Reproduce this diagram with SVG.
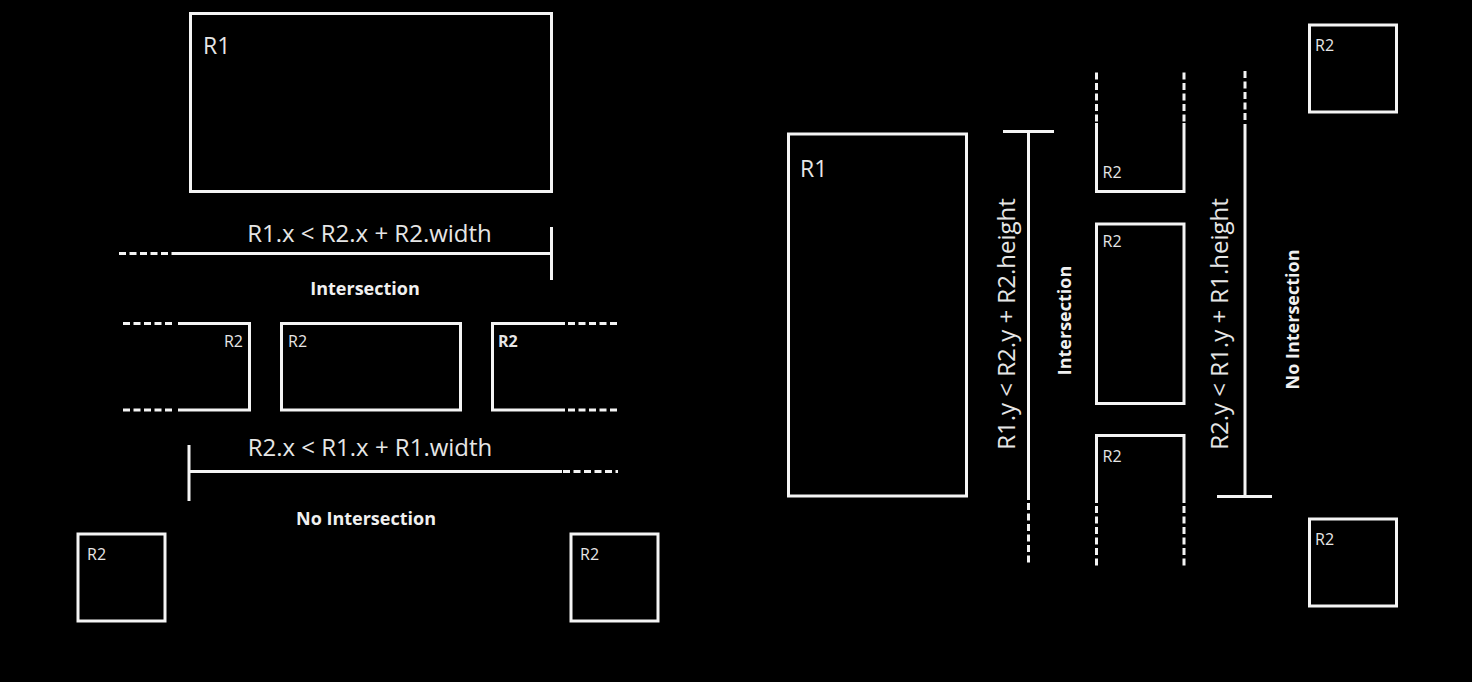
<svg xmlns="http://www.w3.org/2000/svg" width="1472" height="682" viewBox="0 0 1472 682">
<style>
.ln{stroke:#f4f4f4;stroke-width:3;fill:none}
.ds{stroke:#f4f4f4;stroke-width:3;fill:none;stroke-dasharray:7 3.5}
.lb{font-family:"Open Sans","Liberation Sans",sans-serif;fill:#e6e6e6}
.big{font-size:23px}
.f{font-size:24px;fill:#e6e6e6;font-family:"Open Sans","Liberation Sans",sans-serif}
.sm{font-size:16px}
.bd{font-family:"Open Sans","Liberation Sans",sans-serif;font-weight:bold;font-size:18px;fill:#f0f0f0}
</style>
<rect width="1472" height="682" fill="#000"/>

<!-- Left half -->
<g id="r1-left">
<rect class="ln" x="190.5" y="13.5" width="361" height="178"/>
<text class="lb big" x="203" y="54">R1</text>
</g>
<g id="r2-left-partial">
<path class="ln" d="M178,323.5 H249.5 V410 H178"/>
<text class="lb sm" x="243" y="347" text-anchor="end">R2</text>
</g>
<g id="r2-middle">
<rect class="ln" x="281.5" y="323.5" width="179" height="86.5"/>
<text class="lb sm" x="288" y="347">R2</text>
</g>
<g id="r2-right-partial">
<path class="ln" d="M565,323.5 H492.5 V410 H565"/>
<text class="lb sm" x="498" y="347" font-weight="bold">R2</text>
</g>
<g id="r2-bottom-left">
<rect class="ln" x="78" y="534" width="87" height="87"/>
<text class="lb sm" x="87" y="560">R2</text>
</g>
<g id="r2-bottom-right">
<rect class="ln" x="571" y="534" width="87" height="87"/>
<text class="lb sm" x="580" y="560">R2</text>
</g>
<g id="label-left">
<text class="f" x="369.5" y="241.5" text-anchor="middle">R1.x &lt; R2.x + R2.width</text>
<text class="bd" x="365" y="295" text-anchor="middle">Intersection</text>
<text class="f" x="370" y="455.5" text-anchor="middle">R2.x &lt; R1.x + R1.width</text>
<text class="bd" x="366" y="525" text-anchor="middle">No Intersection</text>
</g>

<!-- Right half -->
<g id="r1-right">
<rect class="ln" x="788.5" y="134" width="178" height="362"/>
<text class="lb big" x="800" y="177">R1</text>
</g>
<g id="r2-top-u">
<path class="ln" d="M1096.5,123 V191.5 H1184 V123"/>
<text class="lb sm" x="1102.5" y="178">R2</text>
</g>
<g id="r2-mid-v">
<rect class="ln" x="1096.5" y="224" width="87.5" height="179.5"/>
<text class="lb sm" x="1102.5" y="247">R2</text>
</g>
<g id="r2-bottom-u">
<path class="ln" d="M1096.5,503 V435.5 H1184 V503"/>
<text class="lb sm" x="1102.5" y="462">R2</text>
</g>
<g id="r2-top-right">
<rect class="ln" x="1309.5" y="25" width="87" height="87"/>
<text class="lb sm" x="1315" y="51">R2</text>
</g>
<g id="r2-bottom-right-2">
<rect class="ln" x="1309.5" y="519" width="87" height="87"/>
<text class="lb sm" x="1315" y="545">R2</text>
</g>
<g id="label-right">
<text class="f" transform="translate(1015,324) rotate(-90)" text-anchor="middle">R1.y &lt; R2.y + R2.height</text>
<text class="bd" transform="translate(1071,320.5) rotate(-90)" text-anchor="middle">Intersection</text>
<text class="f" transform="translate(1228,324) rotate(-90)" text-anchor="middle">R2.y &lt; R1.y + R1.height</text>
<text class="bd" transform="translate(1299,319.5) rotate(-90)" text-anchor="middle">No Intersection</text>
</g>

<g id="connectors">
<!-- left top measure line -->
<line class="ds" x1="119" y1="253.5" x2="174" y2="253.5"/>
<line class="ln" x1="174" y1="253.5" x2="552" y2="253.5"/>
<line class="ln" x1="551.5" y1="227" x2="551.5" y2="280"/>
<!-- R2 row dashes -->
<line class="ds" x1="123" y1="323.5" x2="175" y2="323.5"/>
<line class="ds" x1="123" y1="410" x2="175" y2="410"/>
<line class="ds" x1="568" y1="323.5" x2="618" y2="323.5"/>
<line class="ds" x1="568" y1="410" x2="618" y2="410"/>
<!-- left bottom measure line -->
<line class="ln" x1="189" y1="445" x2="189" y2="501"/>
<line class="ln" x1="189" y1="471.5" x2="562" y2="471.5"/>
<line class="ds" x1="563" y1="471.5" x2="618" y2="471.5"/>
<!-- right measure lines -->
<line class="ln" x1="1003" y1="131.5" x2="1054" y2="131.5"/>
<line class="ln" x1="1028.5" y1="131.5" x2="1028.5" y2="500"/>
<line class="ds" x1="1028.5" y1="503" x2="1028.5" y2="566"/>
<line class="ds" x1="1245" y1="71" x2="1245" y2="122"/>
<line class="ln" x1="1245" y1="124" x2="1245" y2="496.5"/>
<line class="ln" x1="1217" y1="496.5" x2="1272" y2="496.5"/>
<!-- U-shape dashes -->
<line class="ds" x1="1096.5" y1="72.5" x2="1096.5" y2="122"/>
<line class="ds" x1="1184" y1="72.5" x2="1184" y2="122"/>
<line class="ds" x1="1096.5" y1="506" x2="1096.5" y2="566"/>
<line class="ds" x1="1184" y1="506" x2="1184" y2="566"/>
</g>
</svg>
